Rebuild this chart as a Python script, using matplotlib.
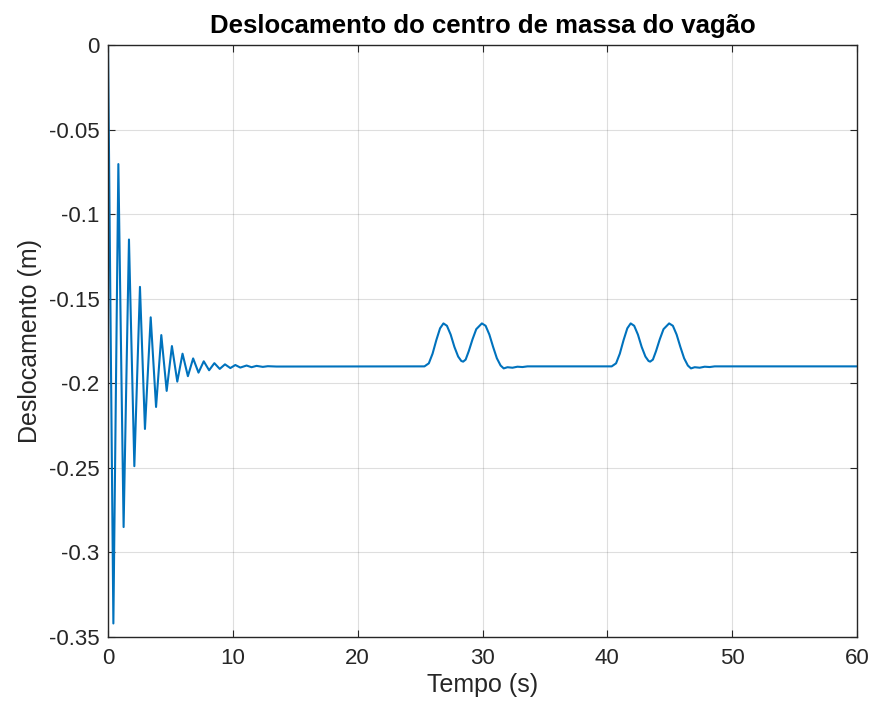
import matplotlib
matplotlib.use("Agg")
import matplotlib.pyplot as plt

# --- data ---
# damped transient (extrema, seconds / metres)
t_transient = [0.0, 0.43, 0.83, 1.25, 1.68, 2.11, 2.56, 2.96, 3.42, 3.85, 4.27,
               4.70, 5.12, 5.55, 5.97, 6.40, 6.82, 7.25, 7.67, 8.10, 8.52, 8.95,
               9.37, 9.80, 10.2, 10.6, 11.1, 11.5, 11.9, 12.4, 12.8, 13.5, 25.35]
y_transient = [0.0, -0.342, -0.0704, -0.285, -0.115, -0.249, -0.143, -0.227,
               -0.161, -0.214, -0.1715, -0.2045, -0.178, -0.199, -0.1825, -0.1958,
               -0.1853, -0.1937, -0.1870, -0.1923, -0.1881, -0.1915, -0.1888,
               -0.1910, -0.1892, -0.1907, -0.1895, -0.1905, -0.1897, -0.1903,
               -0.1899, -0.1901, -0.1900]

# first pair of bumps
t_bump1 = [25.7, 26.0, 26.3, 26.6, 26.87, 27.15, 27.45, 27.75, 28.05, 28.3, 28.45,
           28.65, 28.9, 29.2, 29.5, 29.95, 30.25, 30.55, 30.85, 31.15, 31.45,
           31.7, 32.0, 32.4, 32.8, 33.2, 33.6, 40.35]
y_bump1 = [-0.1882, -0.1825, -0.1745, -0.1675, -0.1646, -0.1660, -0.1712,
           -0.1785, -0.1842, -0.1868, -0.1872, -0.1860, -0.1810, -0.1740,
           -0.1680, -0.1646, -0.1660, -0.1712, -0.1785, -0.1852, -0.1895,
           -0.1912, -0.1905, -0.1908, -0.1902, -0.1904, -0.1900, -0.1900]

# second pair of bumps
t_bump2 = [40.7, 41.0, 41.3, 41.6, 41.87, 42.15, 42.45, 42.75, 43.05, 43.3, 43.43,
           43.65, 43.9, 44.2, 44.5, 44.95, 45.25, 45.55, 45.85, 46.15, 46.45,
           46.7, 47.0, 47.4, 47.8, 48.2, 48.6, 60.0]
y_bump2 = [-0.1882, -0.1825, -0.1745, -0.1675, -0.1646, -0.1660, -0.1712,
           -0.1785, -0.1842, -0.1868, -0.1872, -0.1860, -0.1810, -0.1740,
           -0.1680, -0.1646, -0.1660, -0.1712, -0.1785, -0.1852, -0.1895,
           -0.1912, -0.1905, -0.1908, -0.1902, -0.1904, -0.1900, -0.1900]

x_ticks = [0, 10, 20, 30, 40, 50, 60]
y_ticks = [0, -0.05, -0.1, -0.15, -0.2, -0.25, -0.3, -0.35]
y_tick_labels = ["0", "-0.05", "-0.1", "-0.15", "-0.2", "-0.25", "-0.3", "-0.35"]

title = "Deslocamento do centro de massa do vagão"
xlabel = "Tempo (s)"
ylabel = "Deslocamento (m)"

t = t_transient + t_bump1 + t_bump2
y = y_transient + y_bump1 + y_bump2

plt.rcParams['font.family'] = ['Liberation Sans', 'DejaVu Sans']

fig = plt.figure(figsize=(8.75, 7.13), dpi=100)
ax = fig.add_axes([108/875, 1-637/713, (857-108)/875, (637-45)/713])

ax.plot(t, y, color="#0072BD", linewidth=1.5, solid_joinstyle="round")

ax.set_xlim(0, 60)
ax.set_ylim(-0.35, 0)
ax.set_xticks(x_ticks)
ax.set_xticklabels([str(v) for v in x_ticks])
ax.set_yticks(y_ticks)
ax.set_yticklabels(y_tick_labels)

ax.grid(True, color="#262626", alpha=0.15, linewidth=0.8)
ax.tick_params(direction="in", length=5, width=0.8, colors="#262626",
               labelsize=16, top=True, right=True, pad=6)
ax.tick_params(axis="x", pad=8)
for s in ax.spines.values():
    s.set_color("#262626")
    s.set_linewidth(1.0)

ax.set_title(title, fontsize=18.5, fontweight="bold", color="black", pad=9)
ax.set_xlabel(xlabel, fontsize=18, color="#262626", labelpad=3)
ax.set_ylabel(ylabel, fontsize=18, color="#262626", labelpad=5)

fig.savefig("out.png", dpi=100, facecolor="white")
